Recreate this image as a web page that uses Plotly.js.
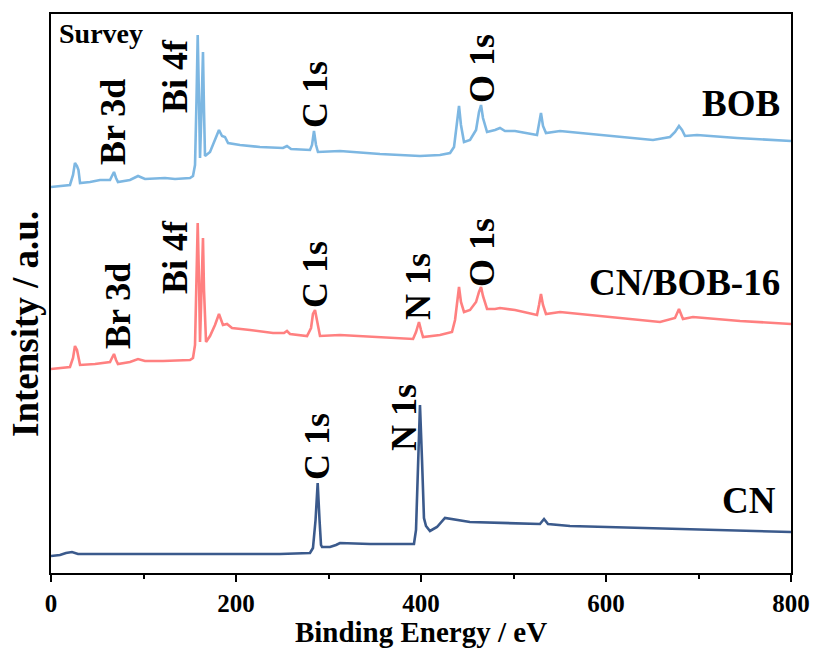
<!DOCTYPE html>
<html>
<head>
<meta charset="utf-8">
<script src="https://cdn.plot.ly/plotly-3.0.1.min.js"></script>
<style>html,body{margin:0;padding:0;background:#fff;}#chart{width:817px;height:648px;}</style>
</head>
<body>
<div id="chart"></div>
<script>
// Binding energy (eV) and intensity (a.u., offset-stacked)
const bobEnergy = [0, 9.7, 20.5, 23.8, 25.9, 28.1, 29.7, 31.4, 42.2, 53, 63.8, 65.9, 68.1, 70.3, 72.4, 85.4, 94.1, 101.6, 123.2, 134.1, 150.3, 153.5, 155.7, 157.3, 158.6, 160, 161.1, 162.7, 164.3, 165.4, 166.5, 171.9, 177.3, 181.6, 184.9, 188.1, 191.4, 204.3, 225.9, 250.8, 255.1, 259.5, 280, 282.2, 284.3, 286.5, 288.6, 312.4, 355.7, 398.9, 420.5, 431.4, 435.7, 439, 441.1, 443.2, 446.5, 453, 459.5, 462.7, 464.9, 467, 471.4, 480, 485.4, 490.8, 501.6, 525.4, 527.6, 529.7, 531.9, 535.1, 550.3, 582.7, 615.1, 650.8, 669.2, 674.6, 678.9, 682.2, 685.4, 698.4, 741.6, 800];
const bobIntensity = [386, 387, 388, 398, 410, 407, 403, 390, 391, 393, 393, 397, 401, 395, 391, 393, 397, 394, 395, 394, 395, 397, 408, 473, 538, 473, 415, 463, 521, 463, 417, 421, 433, 443, 437, 436, 430, 428, 426, 425, 427, 424, 423, 428, 442, 428, 421, 422, 419, 417, 418, 420, 426, 448, 467, 448, 431, 433, 443, 461, 468, 455, 441, 443, 445, 442, 442, 438, 448, 460, 447, 440, 442, 439, 436, 433, 436, 441, 447, 443, 437, 438, 435, 432];

const cnbobEnergy = [0, 9.7, 20.5, 23.8, 25.9, 28.1, 29.7, 31.4, 47.6, 63.8, 65.9, 68.1, 70.3, 72.4, 85.4, 94.1, 101.6, 121.1, 150.3, 153.5, 155.7, 157.3, 158.6, 160, 161.1, 162.7, 164.3, 165.4, 167.6, 171.9, 177.3, 181.6, 185.9, 190.3, 195.7, 215.1, 240, 251.9, 255.1, 258.4, 276.8, 281.1, 283.2, 285.4, 287.6, 290.8, 312.4, 355.7, 391.4, 394.6, 397.8, 400, 402.2, 420.5, 433.5, 436.8, 439, 441.1, 443.2, 446.5, 453, 459.5, 462.7, 464.9, 467, 471.4, 480, 485.4, 501.6, 525.4, 527.6, 529.7, 531.9, 535.1, 550.3, 615.1, 658.4, 674.6, 678.9, 683.2, 694, 744.9, 800];
const cnbobIntensity = [204, 205, 206, 215, 227, 223, 217, 208, 209, 211, 215, 219, 213, 209, 211, 214, 212, 212, 213, 215, 228, 293, 350, 293, 231, 283, 335, 283, 231, 237, 248, 259, 248, 249, 245, 243, 240, 240, 242, 239, 237, 245, 259, 263, 251, 237, 238, 236, 234, 241, 251, 243, 236, 238, 241, 253, 273, 286, 271, 261, 263, 271, 281, 286, 277, 264, 264, 265, 263, 258, 268, 279, 268, 259, 261, 255, 251, 255, 264, 254, 256, 252, 249];

const cnEnergy = [0, 9.7, 16.2, 22.7, 29.2, 53, 161.1, 247.6, 280, 283.2, 286, 288.3, 290.3, 291.9, 293, 301.6, 308.1, 312.4, 344.9, 392.4, 394.6, 396.8, 398.9, 401.1, 403.2, 405.4, 409.7, 417.3, 425.9, 452.9, 496.2, 528.6, 533, 537.3, 561.1, 680, 800];
const cnIntensity = [17, 18, 20, 21, 19, 19, 19, 19, 20, 25, 53, 90, 53, 28, 26, 26, 28, 30, 29, 29, 43, 113, 168, 113, 55, 47, 42, 46, 55, 51, 50, 49, 54, 49, 47, 44, 41];

const seriesNames = ["BOB", "CN/BOB-16", "CN"];
const seriesColors = ["#7DB7E2", "#FF8080", "#3B5A8C"];
const xTickVals = [0, 200, 400, 600, 800];
const xTickText = ["0", "200", "400", "600", "800"];
const yTitleText = "Intensity / a.u.";

// Peak labels: text, energy, intensity (label centre)
const peakText = ["Br 3d", "Bi 4f", "C 1s", "O 1s", "Br 3d", "Bi 4f", "C 1s", "N 1s", "O 1s", "C 1s", "N 1s"];
const peakX = [67, 134, 285.4, 466, 72.4, 134, 285.4, 396.8, 466, 287.6, 381.6];
const peakY = [451, 497, 478, 504, 267, 316, 298, 286, 320, 126, 156];

const nameX = [790.3, 790.3, 786];
const nameY = [470, 291, 73];

const serif = '"Times New Roman", "Liberation Serif", serif';

const traces = [
  {x: bobEnergy, y: bobIntensity},
  {x: cnbobEnergy, y: cnbobIntensity},
  {x: cnEnergy, y: cnIntensity}
].map((t, i) => ({
  x: t.x, y: t.y, type: 'scatter', mode: 'lines', name: seriesNames[i],
  line: {color: seriesColors[i], width: 2.6}, showlegend: false, hoverinfo: 'skip'
}));

const annotations = [];
peakText.forEach((t, i) => annotations.push({
  text: t, x: peakX[i], y: peakY[i], xref: 'x', yref: 'y', showarrow: false,
  textangle: -90, xanchor: 'center', yanchor: 'middle',
  font: {family: serif, size: 36, color: '#000', weight: 'bold'}
}));
seriesNames.forEach((t, i) => annotations.push({
  text: t, x: nameX[i], y: nameY[i], xref: 'x', yref: 'y', showarrow: false,
  xanchor: 'right', yanchor: 'middle',
  font: {family: serif, size: 37, color: '#000', weight: 'bold'}
}));
annotations.push({
  text: 'Survey', x: 6.5, y: 540, xref: 'x', yref: 'y', showarrow: false,
  xanchor: 'left', yanchor: 'middle',
  font: {family: serif, size: 28, color: '#000', weight: 'bold'}
});
// y-axis title (placed as in the reference, slightly below the axis centre)
annotations.push({
  text: yTitleText, x: 25, y: 324, xref: 'paper', yref: 'paper', showarrow: false,
  textangle: -90, xanchor: 'center', yanchor: 'middle',
  font: {family: serif, size: 37, color: '#000', weight: 'bold'}
});

const layout = {
  width: 817, height: 648,
  margin: {l: 51, r: 26, t: 14, b: 75, pad: 0},
  paper_bgcolor: '#fff', plot_bgcolor: '#fff',
  font: {family: serif, color: '#000'},
  xaxis: {
    range: [0, 800], tickvals: xTickVals, ticktext: xTickText,
    ticks: 'outside', ticklen: 7, tickwidth: 2, tickcolor: '#000',
    minor: {dtick: 100, tick0: 0, ticks: 'outside', ticklen: 4, tickwidth: 2, tickcolor: '#000'},
    showline: true, linewidth: 2, linecolor: '#000', mirror: true,
    showgrid: false, zeroline: false,
    tickfont: {family: serif, size: 25, color: '#000', weight: 'bold'},
    title: {text: 'Binding Energy / eV', standoff: 9, font: {family: serif, size: 29, color: '#000', weight: 'bold'}}
  },
  yaxis: {
    range: [0, 559], showticklabels: false, ticks: '',
    showline: true, linewidth: 2, linecolor: '#000', mirror: true,
    showgrid: false, zeroline: false
  },
  annotations: annotations
};

// convert pixel placement of the y title to paper coordinates
const plotW = 817 - 51 - 26, plotH = 648 - 14 - 75;
const yt = annotations[annotations.length - 1];
yt.x = (yt.x - 51) / plotW;
yt.y = (648 - 75 - yt.y) / plotH;

Plotly.newPlot('chart', traces, layout, {staticPlot: true, displayModeBar: false});
</script>
</body>
</html>
